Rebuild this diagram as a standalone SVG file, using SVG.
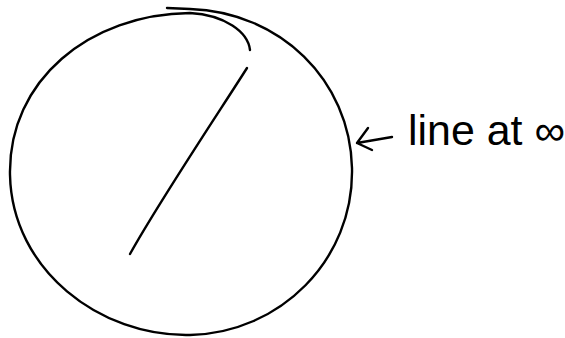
<svg xmlns="http://www.w3.org/2000/svg" width="565" height="338" viewBox="0 0 565 338">
<style>
.ink{fill:none;stroke:#000;stroke-width:2.4;stroke-linecap:round;stroke-linejoin:round}
.lbl{font-family:"Liberation Sans",Arial,sans-serif;font-size:42px;fill:#000}
</style>
<rect width="565" height="338" fill="#fff"/>
<g id="circle">
<path class="ink" d="M167,8 C175,8.3 182,8.6 190,9 C280,12 350,80 352,168 C354,260 280,333 190,335 C100,337 12,270 10,175 C8,80 90,14 190,13 C225,15 248,32 250,50"/>
</g>
<g id="line">
<path class="ink" d="M247,68 C225,103 160,200 130,254"/>
</g>
<g id="connectors">
<path class="ink" d="M392,137 L357,143 M368,128 L357,143 L372,150"/>
</g>
<g id="label">
<text class="lbl" x="408" y="145" textLength="157" lengthAdjust="spacingAndGlyphs">line at ∞</text>
</g>
</svg>
